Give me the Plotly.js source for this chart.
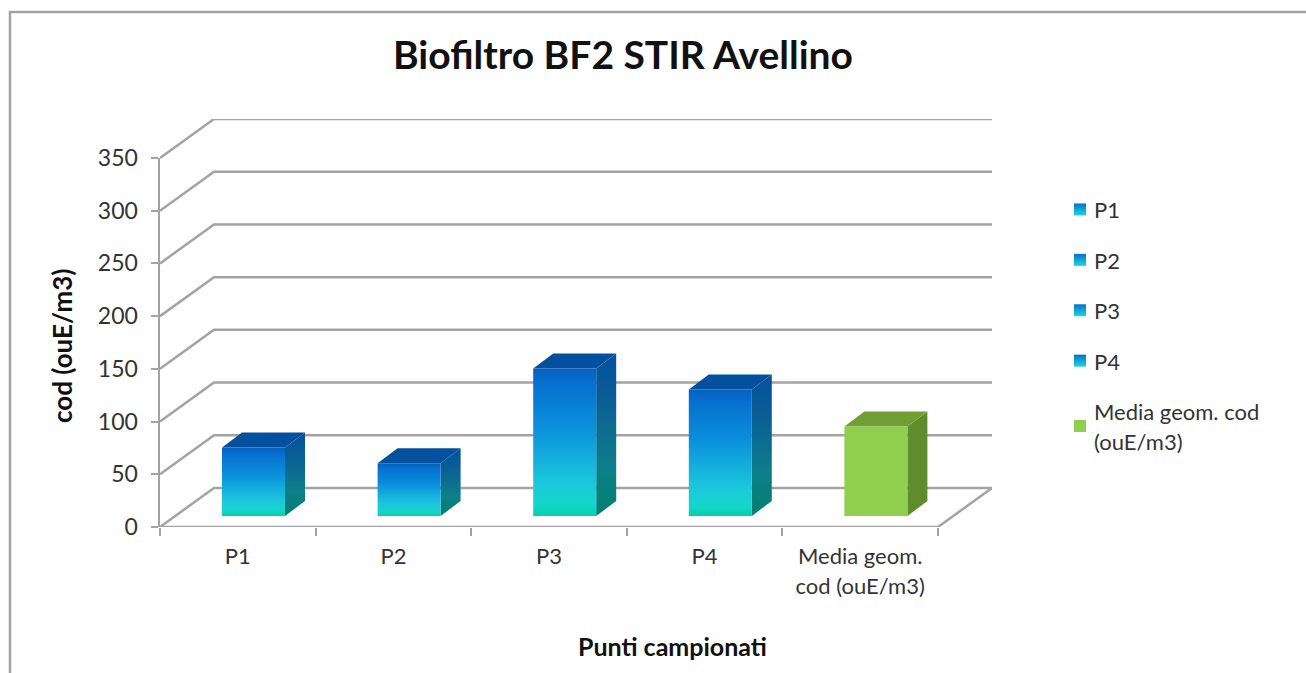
<!DOCTYPE html>
<html><head><meta charset="utf-8">
<script src="https://cdn.plot.ly/plotly-3.0.1.min.js"></script>
<style>html,body{margin:0;padding:0;background:#fff}#c{width:1306px;height:673px}</style>
</head><body><div id="c"></div>
<script>
const categories = ['P1','P2','P3','P4','Media geom.<br>cod (ouE/m3)'];
const legendNames = ['P1','P2','P3','P4','Media geom. cod<br>(ouE/m3)'];
const values = [65, 50, 140, 120, 85];
const yTicks = [0,50,100,150,200,250,300,350];
const titleText = 'Biofiltro BF2 STIR Avellino';
const xTitle = 'Punti campionati';
const yTitle = 'cod (ouE/m3)';

const W=1306,H=673;
const L=160,R=938,B=527,T=158;
const DX=54,DY=39;
const pxX=(R-L)/5, pxY=(B-T)/350;
const depthX=DX/pxX, depthY=DY/pxY;
const barW=63/pxX, barInset=62/pxX, barBase=11/pxY;
const bdX=20/pxX, bdY=15/pxY;

const grid='#a3a3a3', textCol='#333333';
const FF='Lato, "Open Sans", sans-serif';
const small=s=>s.split('<br>').map(t=>'<span style="font-size:22px">'+t+'</span>').join('<br>');

const gx=[],gy=[];
yTicks.forEach(v=>{
  gx.push(0,depthX,5+depthX,null); gy.push(v,v+depthY,v+depthY,null);
});
gx.push(0,5,5+depthX,null); gy.push(0,0,depthY,null);
const gridTrace={x:gx,y:gy,xaxis:'x2',yaxis:'y2',type:'scatter',mode:'lines',
  line:{color:grid,width:2.5},showlegend:false,hoverinfo:'skip'};

const frontBlue=[[0,'#06cfae'],[0.08,'#14d6c8'],[0.22,'#1cc8dc'],[0.6,'#0a90dc'],[0.9,'#0670d0'],[1,'#0560bd']];
const sideBlue=[[0,'#037f6f'],[0.3,'#0d7f8a'],[0.7,'#0a5f96'],[1,'#05509c']];
const grad=s=>({type:'vertical',colorscale:s});
const barTraces=[];
values.forEach((v,i)=>{
  const green=i===4;
  const xl=i+barInset, xr=xl+barW, yb=barBase, yt=v+barBase;
  const face=green?{fillcolor:'#8fcf4d'}:{fillgradient:grad(frontBlue),fillcolor:'#0a90dc'};
  const side=green?{fillcolor:'#5f8d2e'}:{fillgradient:grad(sideBlue),fillcolor:'#0a6f90'};
  const topC=green?'#6f9f35':'#03509f';
  const base={xaxis:'x2',yaxis:'y2',type:'scatter',mode:'lines',fill:'toself',line:{width:0,color:'rgba(0,0,0,0)'},hoverinfo:'skip',showlegend:false};
  barTraces.push(Object.assign({},base,side,{x:[xr,xr+bdX,xr+bdX,xr,xr],y:[yb,yb+bdY,yt+bdY,yt,yb]}));
  barTraces.push(Object.assign({},base,{fillcolor:topC,x:[xl,xl+bdX,xr+bdX,xr,xl],y:[yt,yt+bdY,yt+bdY,yt,yt]}));
  barTraces.push(Object.assign({},base,face,{x:[xl,xr,xr,xl,xl],y:[yb,yb,yt,yt,yb]}));
});
const legendTraces=legendNames.map((n,i)=>({
  xaxis:'x2',yaxis:'y2',type:'scatter',mode:'markers',x:[null],y:[null],name:small(n),legendgroup:'g'+i,showlegend:true,
  marker:i===4?{symbol:'square',size:12,color:'#8fcf4d'}
              :{symbol:'square',size:12,color:'#0670d0',gradient:{type:'vertical',color:'#1cd8d8'}}
}));

const axisTrace={type:'bar',x:categories.map(small),y:values,marker:{color:'rgba(0,0,0,0)'},showlegend:false,hoverinfo:'skip'};

const layout={
  width:W,height:H,paper_bgcolor:'#fff',plot_bgcolor:'rgba(0,0,0,0)',
  margin:{l:0,r:0,t:0,b:0},autosize:false,font:{family:FF,color:textCol,size:18},
  title:{text:'<b>'+titleText+'</b>',x:623/W,xanchor:'center',y:1-55/H,yanchor:'middle',
    font:{family:FF,size:39,color:'#111'}},
  xaxis:{domain:[L/W,R/W],type:'category',tickson:'boundaries',ticks:'outside',ticklen:8,tickwidth:2,tickcolor:grid,
    showline:false,showgrid:false,zeroline:false,tickfont:{size:23,color:textCol},automargin:false,ticklabelstandoff:13,tickangle:0},
  yaxis:{domain:[1-B/H,1-T/H],range:[0,350],tickvals:yTicks,ticks:'outside',ticklen:7,tickwidth:2,tickcolor:grid,
    showline:true,linecolor:grid,linewidth:2.5,showgrid:false,zeroline:false,tickfont:{size:23,color:textCol},automargin:false,ticklabelstandoff:8},
  xaxis2:{domain:[L/W,(R+DX)/W],range:[0,5+depthX],anchor:'y2',visible:false},
  yaxis2:{domain:[1-B/H,1-(T-DY)/H],range:[0,350+depthY],anchor:'x2',visible:false},
  legend:{x:1054/W,xanchor:'left',y:1-188/H,yanchor:'top',bgcolor:'rgba(0,0,0,0)',tracegroupgap:17.5,itemsizing:'constant',
    itemwidth:30,font:{size:23,color:textCol},traceorder:'grouped'},
  shapes:[{type:'path',xref:'paper',yref:'paper',path:`M ${10/W} -0.02 L ${10/W} ${1-12/H} L 1.01 ${1-12/H}`,line:{color:'#a3a3a3',width:2.5}}],
  annotations:[
    {xref:'paper',yref:'paper',x:672/W,y:1-646/H,showarrow:false,xanchor:'center',yanchor:'middle',text:'<b>'+xTitle+'</b>',font:{size:25,color:'#111',family:FF}},
    {xref:'paper',yref:'paper',x:62/W,y:1-346/H,showarrow:false,xanchor:'center',yanchor:'middle',textangle:-90,text:'<b>'+yTitle+'</b>',font:{size:26,color:'#111',family:FF}}
  ],
  showlegend:true
};
Plotly.newPlot('c',[axisTrace,gridTrace,...barTraces,...legendTraces],layout,{displayModeBar:false,staticPlot:true}).then(()=>{
  document.querySelectorAll('.legend .legendpoints').forEach(g=>g.setAttribute('transform','translate(6,0)'));
});
</script></body></html>
